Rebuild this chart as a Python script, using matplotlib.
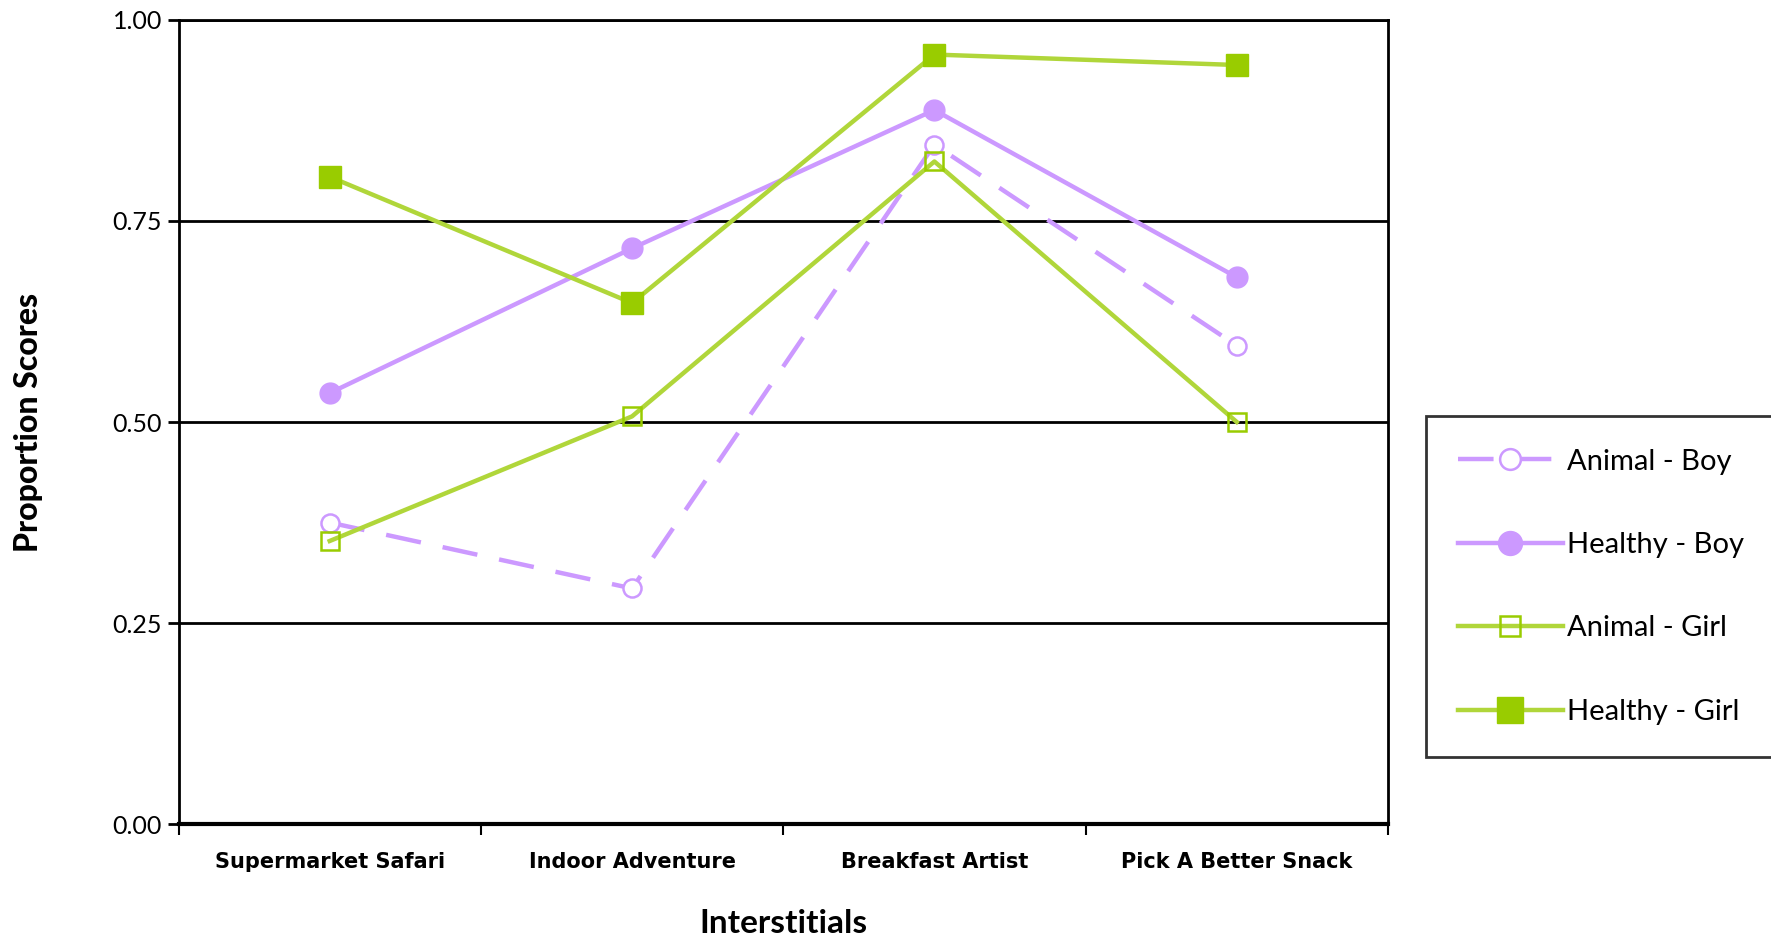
import matplotlib
matplotlib.use('Agg')
import matplotlib.pyplot as plt
import numpy as np

# proportion scores per interstitial
interstitials = ['Supermarket Safari', 'Indoor Adventure', 'Breakfast Artist', 'Pick A Better Snack']
animal_boy = [0.375, 0.293, 0.845, 0.595]
healthy_boy = [0.536, 0.716, 0.888, 0.680]
animal_girl = [0.352, 0.507, 0.824, 0.500]
healthy_girl = [0.805, 0.648, 0.957, 0.944]

PURPLE = '#CC99FF'
GREEN_LINE = '#B0D63A'
GREEN = '#99CC00'

plt.rcParams['font.family'] = ['Lato', 'DejaVu Sans']

fig = plt.figure(figsize=(17.71, 9.38), dpi=100)
ax = fig.add_axes([0.1008, 0.1215, 0.6829, 0.8572])

x = np.arange(len(interstitials)) + 0.5
lw = 3.2

ax.plot(x, animal_boy, color=PURPLE, lw=lw, dashes=(8, 5), marker='o', ms=13,
        mfc='white', mec=PURPLE, mew=1.8, label='Animal - Boy', zorder=3)
ax.plot(x, healthy_boy, color=PURPLE, lw=lw, marker='o', ms=15,
        mfc=PURPLE, mec=PURPLE, label='Healthy - Boy', zorder=3)
ax.plot(x, animal_girl, color=GREEN_LINE, lw=lw, marker='s', ms=13,
        mfc='none', mec=GREEN, mew=1.8, label='Animal - Girl', zorder=3)
ax.plot(x, healthy_girl, color=GREEN_LINE, lw=lw, marker='s', ms=16,
        mfc=GREEN, mec=GREEN, label='Healthy - Girl', zorder=3)

ax.set_xlim(0, len(interstitials))
ax.set_ylim(0, 1)
ax.set_xticks(np.arange(len(interstitials) + 1))
ax.set_xticklabels([])
ax.set_xticks(x, minor=True)
ax.set_xticklabels(interstitials, minor=True, fontsize=15, fontweight='bold',
                   family=['DejaVu Sans'])
ax.tick_params(axis='x', which='minor', length=0, pad=20)
ax.tick_params(axis='x', which='major', length=8, width=1.5, direction='out')

ax.set_yticks([0, 0.25, 0.5, 0.75, 1.0])
ax.set_yticklabels(['%.2f' % v for v in [0, 0.25, 0.5, 0.75, 1.0]], fontsize=18)
ax.tick_params(axis='y', length=8, width=2, direction='out', pad=4)
ax.yaxis.grid(True, color='black', lw=2)
ax.set_axisbelow(True)

for s in ax.spines.values():
    s.set_linewidth(2)
ax.spines['bottom'].set_linewidth(3)

ax.set_xlabel('Interstitials', fontsize=24, fontweight='bold', labelpad=27)
ax.set_ylabel('Proportion Scores', fontsize=23, fontweight='black', labelpad=50)

leg = ax.legend(loc='upper left', bbox_to_anchor=(0.805, 0.556), bbox_transform=fig.transFigure,
                fontsize=21, frameon=True, fancybox=False, edgecolor='black',
                handlelength=3.6, labelspacing=1.97, borderpad=1.1, handletextpad=0.15,
                borderaxespad=0, markerscale=1.15)
leg.get_frame().set_linewidth(2)

fig.savefig('out.png', dpi=100)
